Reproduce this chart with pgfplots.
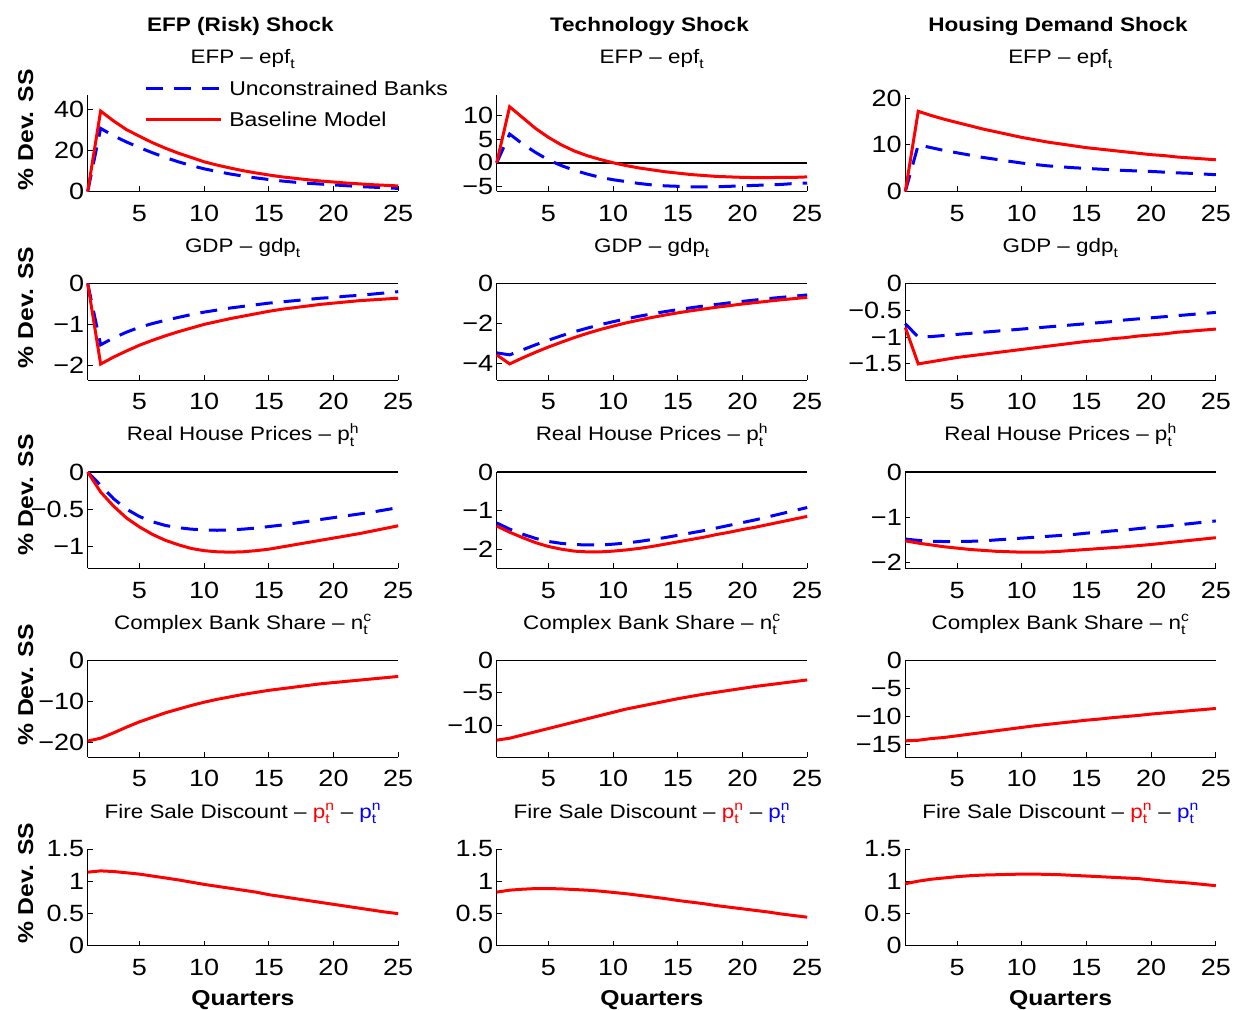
\documentclass[border=0pt]{standalone}
\usepackage{amsmath}
\usepackage{pgfplots}
\pgfplotsset{compat=1.18}
\usepackage{pgfplotstable}
\usepackage{fontspec}
\setmainfont{Liberation Sans}[FakeStretch=1.15]

\newcommand\tickfont{\fontsize{23.5}{26}\selectfont}
\newcommand\titlefont{\fontsize{19.5}{22}\selectfont}
\newcommand\boldfont{\bfseries\fontsize{21.5}{24}\selectfont}
\newcommand\colfont{\bfseries\fontsize{19.6}{22}\selectfont}
\newcommand\legfont{\fontsize{20}{23}\selectfont}

% Impulse responses, quarters 1..25: B = baseline model, U = unconstrained banks
\pgfplotstableread{
x efpB efpU gdpB gdpU phB phU ncB fsB
1 0 0 0 0 0 0 -19.7 1.14
2 39.0 30.6 -1.97 -1.50 -0.27 -0.18 -19.0 1.16
3 34.2 27.0 -1.80 -1.33 -0.46 -0.36 -17.7 1.15
4 30.0 24.0 -1.65 -1.19 -0.62 -0.50 -16.3 1.13
5 26.8 21.3 -1.51 -1.07 -0.74 -0.60 -15.0 1.11
6 23.7 18.8 -1.39 -0.98 -0.84 -0.67 -13.9 1.08
7 21.0 16.5 -1.28 -0.90 -0.92 -0.72 -12.8 1.05
8 18.6 14.4 -1.18 -0.83 -0.98 -0.75 -11.9 1.02
9 16.5 12.6 -1.09 -0.76 -1.03 -0.77 -11.0 0.985
10 14.4 11.0 -1.00 -0.70 -1.06 -0.78 -10.2 0.95
11 12.8 9.7 -0.93 -0.65 -1.075 -0.785 -9.5 0.92
12 11.4 8.5 -0.86 -0.60 -1.08 -0.78 -8.9 0.89
13 10.1 7.5 -0.80 -0.56 -1.075 -0.77 -8.3 0.86
14 9.0 6.6 -0.74 -0.52 -1.06 -0.755 -7.8 0.83
15 8.0 5.8 -0.68 -0.48 -1.04 -0.735 -7.3 0.79
16 7.1 5.1 -0.63 -0.45 -1.01 -0.715 -6.9 0.76
17 6.4 4.5 -0.59 -0.42 -0.98 -0.69 -6.5 0.73
18 5.7 4.0 -0.55 -0.39 -0.95 -0.665 -6.1 0.70
19 5.1 3.6 -0.51 -0.36 -0.92 -0.64 -5.7 0.67
20 4.6 3.2 -0.48 -0.34 -0.89 -0.615 -5.4 0.64
21 4.1 2.8 -0.45 -0.31 -0.86 -0.59 -5.1 0.61
22 3.7 2.4 -0.42 -0.29 -0.83 -0.565 -4.8 0.58
23 3.3 2.1 -0.40 -0.26 -0.795 -0.54 -4.5 0.55
24 3.0 1.8 -0.38 -0.23 -0.76 -0.51 -4.2 0.52
25 2.7 1.5 -0.36 -0.20 -0.725 -0.48 -3.9 0.495
}\risk

\pgfplotstableread{
x efpB efpU gdpB gdpU phB phU ncB fsB
1 0 0 -3.55 -3.45 -1.40 -1.32 -12.3 0.83
2 11.9 6.1 -4.00 -3.55 -1.56 -1.48 -12.0 0.86
3 9.6 4.0 -3.70 -3.30 -1.70 -1.61 -11.5 0.875
4 7.3 2.2 -3.42 -3.05 -1.83 -1.72 -11.0 0.885
5 5.4 0.6 -3.16 -2.82 -1.93 -1.80 -10.5 0.885
6 3.8 -0.6 -2.92 -2.60 -2.00 -1.85 -10.0 0.88
7 2.5 -1.6 -2.69 -2.40 -2.05 -1.88 -9.5 0.87
8 1.5 -2.4 -2.48 -2.22 -2.07 -1.89 -9.0 0.86
9 0.7 -3.1 -2.29 -2.05 -2.07 -1.89 -8.5 0.845
10 0.0 -3.6 -2.12 -1.90 -2.05 -1.87 -8.0 0.825
11 -0.6 -4.0 -1.96 -1.76 -2.02 -1.84 -7.5 0.805
12 -1.1 -4.4 -1.82 -1.63 -1.98 -1.80 -7.1 0.78
13 -1.5 -4.7 -1.69 -1.51 -1.93 -1.75 -6.7 0.755
14 -1.9 -4.9 -1.57 -1.40 -1.87 -1.70 -6.3 0.73
15 -2.2 -5.0 -1.46 -1.30 -1.81 -1.64 -5.9 0.70
16 -2.5 -5.1 -1.36 -1.21 -1.75 -1.58 -5.55 0.675
17 -2.7 -5.1 -1.27 -1.12 -1.69 -1.52 -5.2 0.65
18 -2.9 -5.1 -1.18 -1.04 -1.62 -1.45 -4.9 0.62
19 -3.0 -5.0 -1.10 -0.96 -1.56 -1.38 -4.6 0.595
20 -3.1 -4.9 -1.02 -0.89 -1.49 -1.31 -4.3 0.57
21 -3.15 -4.8 -0.95 -0.82 -1.43 -1.24 -4.0 0.545
22 -3.15 -4.7 -0.88 -0.75 -1.36 -1.16 -3.75 0.52
23 -3.1 -4.6 -0.81 -0.69 -1.29 -1.08 -3.5 0.49
24 -3.1 -4.4 -0.75 -0.63 -1.22 -1.00 -3.25 0.465
25 -3.0 -4.3 -0.69 -0.57 -1.15 -0.92 -3.0 0.44
}\tech

\pgfplotstableread{
x efpB efpU gdpB gdpU phB phU ncB fsB
1 0 0 -0.82 -0.75 -1.52 -1.48 -14.4 0.96
2 17.2 10.0 -1.50 -1.00 -1.57 -1.51 -14.3 1.00
3 16.3 9.4 -1.46 -0.99 -1.61 -1.53 -14.0 1.03
4 15.5 8.8 -1.42 -0.97 -1.65 -1.535 -13.8 1.05
5 14.8 8.3 -1.38 -0.95 -1.68 -1.535 -13.5 1.07
6 14.1 7.8 -1.35 -0.93 -1.71 -1.53 -13.2 1.085
7 13.4 7.3 -1.32 -0.91 -1.73 -1.52 -12.9 1.095
8 12.8 6.9 -1.29 -0.89 -1.75 -1.50 -12.6 1.10
9 12.2 6.5 -1.26 -0.87 -1.76 -1.48 -12.3 1.105
10 11.6 6.1 -1.23 -0.85 -1.77 -1.46 -12.0 1.11
11 11.1 5.8 -1.20 -0.83 -1.77 -1.44 -11.7 1.11
12 10.6 5.5 -1.17 -0.81 -1.765 -1.42 -11.45 1.105
13 10.2 5.3 -1.14 -0.79 -1.75 -1.40 -11.2 1.10
14 9.8 5.1 -1.11 -0.77 -1.73 -1.38 -10.95 1.09
15 9.4 4.95 -1.08 -0.75 -1.71 -1.35 -10.7 1.08
16 9.1 4.8 -1.06 -0.73 -1.69 -1.33 -10.5 1.07
17 8.8 4.65 -1.03 -0.71 -1.67 -1.30 -10.25 1.06
18 8.5 4.5 -1.01 -0.68 -1.65 -1.28 -10.05 1.05
19 8.2 4.4 -0.98 -0.66 -1.625 -1.25 -9.85 1.04
20 7.9 4.3 -0.96 -0.64 -1.60 -1.22 -9.6 1.02
21 7.7 4.15 -0.94 -0.62 -1.57 -1.20 -9.4 1.00
22 7.4 4.0 -0.91 -0.60 -1.54 -1.17 -9.2 0.985
23 7.2 3.9 -0.89 -0.58 -1.51 -1.14 -9.0 0.97
24 7.0 3.75 -0.87 -0.56 -1.48 -1.11 -8.8 0.95
25 6.8 3.6 -0.85 -0.54 -1.45 -1.08 -8.6 0.93
}\house

\pgfplotsset{
  irf/.style={
    scale only axis, width=310.5pt, height=96.5pt,
    xmin=1, xmax=25, xtick={5,10,15,20,25}, xticklabels={5,10,15,20,25},
    axis x line*=bottom, axis y line*=left,
    axis line style={-, line width=0.9pt},
    tick align=inside, major tick length=5pt,
    tick style={black, line width=0.9pt},
    tick label style={font=\tickfont},
    xticklabel style={yshift=-10pt},
    yticklabel style={xshift=0pt},
    every axis title/.style={at={(0.5,1)}, anchor=base, yshift=31pt, font=\titlefont},
    every axis y label/.style={at={(axis description cs:-0.176,0.5)}, rotate=90, anchor=base, font=\boldfont},
    every axis x label/.style={at={(axis description cs:0.5,0)}, anchor=base, yshift=-59.5pt, font=\boldfont},
    clip=false,
  },
  base/.style={red, line width=3pt},
  unc/.style={blue, line width=3pt, dash pattern=on 17pt off 11pt},
  zero/.style={black, line width=1.6pt, forget plot},
}
\tikzset{coltitle/.style={anchor=base, yshift=63.3pt, xshift=-2.5pt, font=\colfont}}

\newcommand\efptitle{EFP -- $\text{epf}_{\text{t}}$}
\newcommand\gdptitle{GDP -- $\text{gdp}_{\text{t}}$}
\newcommand\phtitle{Real House Prices -- $\text{p}^{\text{h}}_{\text{t}}$}
\newcommand\nctitle{Complex Bank Share -- $\text{n}^{\text{c}}_{\text{t}}$}
\newcommand\fstitle{Fire Sale Discount -- {\color{red}$\text{p}^{\text{n}}_{\text{t}}$} -- {\color{blue}$\text{p}^{\text{n}}_{\text{t}}$}}

\begin{document}
\begin{tikzpicture}
\path[use as bounding box] (0pt,0pt) rectangle (1233pt,1009pt);

% ---------------- row 1: EFP ----------------
\begin{axis}[irf, at={(87.7pt,817.5pt)}, anchor=south west,
  ymin=0, ymax=46.8, ytick={0,20,40}, yticklabels={0,20,40},
  title={\efptitle}, ylabel={\% Dev. SS},
  ylabel style={at={(axis description cs:-0.176,0.64)}},
  legend style={at={(axis description cs:0.1815,1.142)}, anchor=north west,
    draw=none, fill=none, font=\legfont, inner sep=0pt, row sep=17pt, column sep=7pt,
    nodes={inner sep=0pt, text height=14pt, text depth=0pt}},
  legend cell align=left,
  legend image code/.code={\draw[#1] (0pt,0pt) -- (75pt,0pt);}]
\addplot[zero] coordinates {(1,0) (25,0)};
\addplot[unc] table[x=x,y=efpU] {\risk};
\addlegendentry{Unconstrained Banks}
\addplot[base] table[x=x,y=efpB] {\risk};
\addlegendentry{Baseline Model}
\node[coltitle] at (rel axis cs:0.5,1) {EFP (Risk) Shock};
\end{axis}

\begin{axis}[irf, at={(496.7pt,817.5pt)}, anchor=south west,
  ymin=-6.1, ymax=14.4, ytick={-5,0,5,10}, yticklabels={−5,0,5,10},
  title={\efptitle}]
\addplot[zero] coordinates {(1,0) (25,0)};
\addplot[unc] table[x=x,y=efpU] {\tech};
\addplot[base] table[x=x,y=efpB] {\tech};
\node[coltitle] at (rel axis cs:0.5,1) {Technology Shock};
\end{axis}

\begin{axis}[irf, at={(905.3pt,817.5pt)}, anchor=south west,
  ymin=0, ymax=20.7, ytick={0,10,20}, yticklabels={0,10,20},
  title={\efptitle}]
\addplot[zero] coordinates {(1,0) (25,0)};
\addplot[unc] table[x=x,y=efpU] {\house};
\addplot[base] table[x=x,y=efpB] {\house};
\node[coltitle] at (rel axis cs:0.5,1) {Housing Demand Shock};
\end{axis}

% ---------------- row 2: GDP ----------------
\begin{axis}[irf, at={(87.7pt,629pt)}, anchor=south west,
  ymin=-2.36, ymax=0, ytick={-2,-1,0}, yticklabels={−2,−1,0},
  title={\gdptitle}, ylabel={\% Dev. SS},
  ylabel style={at={(axis description cs:-0.176,0.75)}}]
\addplot[zero] coordinates {(1,0) (25,0)};
\addplot[unc] table[x=x,y=gdpU] {\risk};
\addplot[base] table[x=x,y=gdpB] {\risk};
\end{axis}

\begin{axis}[irf, at={(496.7pt,629pt)}, anchor=south west,
  ymin=-4.8, ymax=0, ytick={-4,-2,0}, yticklabels={−4,−2,0},
  title={\gdptitle}]
\addplot[zero] coordinates {(1,0) (25,0)};
\addplot[unc] table[x=x,y=gdpU] {\tech};
\addplot[base] table[x=x,y=gdpB] {\tech};
\end{axis}

\begin{axis}[irf, at={(905.3pt,629pt)}, anchor=south west,
  ymin=-1.8, ymax=0, ytick={-1.5,-1,-0.5,0}, yticklabels={−1.5,−1,−0.5,0},
  title={\gdptitle}]
\addplot[zero] coordinates {(1,0) (25,0)};
\addplot[unc] table[x=x,y=gdpU] {\house};
\addplot[base] table[x=x,y=gdpB] {\house};
\end{axis}

% ---------------- row 3: house prices ----------------
\begin{axis}[irf, at={(87.7pt,440.5pt)}, anchor=south west,
  ymin=-1.3, ymax=0, ytick={-1,-0.5,0}, yticklabels={−1,−0.5,0},
  title={\phtitle}, ylabel={\% Dev. SS},
  ylabel style={at={(axis description cs:-0.176,0.76)}}]
\addplot[zero] coordinates {(1,0) (25,0)};
\addplot[unc] table[x=x,y=phU] {\risk};
\addplot[base] table[x=x,y=phB] {\risk};
\end{axis}

\begin{axis}[irf, at={(496.7pt,440.5pt)}, anchor=south west,
  ymin=-2.5, ymax=0, ytick={-2,-1,0}, yticklabels={−2,−1,0},
  title={\phtitle}]
\addplot[zero] coordinates {(1,0) (25,0)};
\addplot[unc] table[x=x,y=phU] {\tech};
\addplot[base] table[x=x,y=phB] {\tech};
\end{axis}

\begin{axis}[irf, at={(905.3pt,440.5pt)}, anchor=south west,
  ymin=-2.13, ymax=0, ytick={-2,-1,0}, yticklabels={−2,−1,0},
  title={\phtitle}]
\addplot[zero] coordinates {(1,0) (25,0)};
\addplot[unc] table[x=x,y=phU] {\house};
\addplot[base] table[x=x,y=phB] {\house};
\end{axis}

% ---------------- row 4: complex bank share ----------------
\begin{axis}[irf, at={(87.7pt,252pt)}, anchor=south west,
  ymin=-23.6, ymax=0, ytick={-20,-10,0}, yticklabels={−20,−10,0},
  title={\nctitle}, ylabel={\% Dev. SS},
  ylabel style={at={(axis description cs:-0.176,0.746)}}]
\addplot[zero] coordinates {(1,0) (25,0)};
\addplot[base] table[x=x,y=ncB] {\risk};
\end{axis}

\begin{axis}[irf, at={(496.7pt,252pt)}, anchor=south west,
  ymin=-14.9, ymax=0, ytick={-10,-5,0}, yticklabels={−10,−5,0},
  title={\nctitle}]
\addplot[zero] coordinates {(1,0) (25,0)};
\addplot[base] table[x=x,y=ncB] {\tech};
\end{axis}

\begin{axis}[irf, at={(905.3pt,252pt)}, anchor=south west,
  ymin=-17.3, ymax=0, ytick={-15,-10,-5,0}, yticklabels={−15,−10,−5,0},
  title={\nctitle}]
\addplot[zero] coordinates {(1,0) (25,0)};
\addplot[base] table[x=x,y=ncB] {\house};
\end{axis}

% ---------------- row 5: fire sale discount ----------------
\begin{axis}[irf, at={(87.7pt,63.5pt)}, anchor=south west,
  ymin=0, ymax=1.5, ytick={0,0.5,1,1.5}, yticklabels={0,0.5,1,1.5},
  title={\fstitle}, ylabel={\% Dev. SS}, xlabel={Quarters},
  ylabel style={at={(axis description cs:-0.176,0.645)}}]
\addplot[zero] coordinates {(1,0) (25,0)};
\addplot[base] table[x=x,y=fsB] {\risk};
\end{axis}

\begin{axis}[irf, at={(496.7pt,63.5pt)}, anchor=south west,
  ymin=0, ymax=1.5, ytick={0,0.5,1,1.5}, yticklabels={0,0.5,1,1.5},
  title={\fstitle}, xlabel={Quarters}]
\addplot[zero] coordinates {(1,0) (25,0)};
\addplot[base] table[x=x,y=fsB] {\tech};
\end{axis}

\begin{axis}[irf, at={(905.3pt,63.5pt)}, anchor=south west,
  ymin=0, ymax=1.5, ytick={0,0.5,1,1.5}, yticklabels={0,0.5,1,1.5},
  title={\fstitle}, xlabel={Quarters}]
\addplot[zero] coordinates {(1,0) (25,0)};
\addplot[base] table[x=x,y=fsB] {\house};
\end{axis}

\end{tikzpicture}
\end{document}
